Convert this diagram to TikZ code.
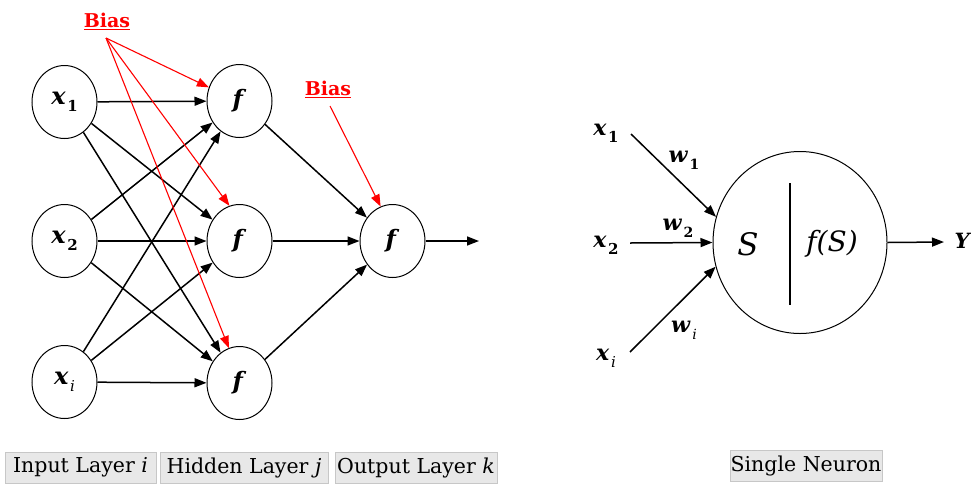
\documentclass[tikz,border=0pt]{standalone}
\usepackage{fontspec}
\setmainfont{DejaVu Serif}
\newfontfamily\tnr{DejaVu Serif}
\usetikzlibrary{shapes.geometric,arrows.meta}
\newcommand{\xvar}[1]{\textbf{\textit{x}}\hspace{1.5pt}\raisebox{-0.3em}{\fontsize{15}{15}\selectfont\textbf{#1}}}
\newcommand{\xivar}{\textbf{\textit{x}}\hspace{1.5pt}\raisebox{-0.3em}{\fontsize{15}{15}\selectfont\textit{i}}}
\newcommand{\wvar}[1]{\textbf{\textit{w}}\hspace{1.5pt}\raisebox{-0.3em}{\fontsize{14}{14}\selectfont\textbf{#1}}}
\begin{document}
\begin{tikzpicture}[x=1pt,y=-1pt,
  neuron/.style={ellipse,draw,line width=1pt,minimum width=65pt,minimum height=73pt,inner sep=0pt,font=\tnr\fontsize{24}{26}\selectfont},
  conn/.style={-{Triangle[length=12pt,width=9pt]},line width=1.5pt},
  biasarrow/.style={-{Triangle[length=12pt,width=9pt]},line width=1.1pt,red},
  biaslabel/.style={text=red,font=\tnr\fontsize{19}{21}\selectfont\bfseries,inner sep=1pt},
  lbl/.style={font=\tnr\fontsize{22}{24}\selectfont,inner sep=1pt},
  layerbox/.style={rectangle,fill=black!9,draw=black!22,line width=0.8pt,minimum height=31pt,inner sep=0pt,font=\tnr\fontsize{20.5}{23}\selectfont}
]
\useasboundingbox (0,0) rectangle (971,483);

% input layer
\node[neuron] (x1) at (64.5,102) {\xvar{1}};
\node[neuron] (x2) at (64.5,241) {\xvar{2}};
\node[neuron] (xi) at (64.5,382) {\xivar};
% hidden layer
\node[neuron] (h1) at (239.5,101) {\textbf{\textit{f}}};
\node[neuron] (h2) at (239.5,241) {\textbf{\textit{f}}};
\node[neuron] (h3) at (239.5,383) {\textbf{\textit{f}}};
% output
\node[neuron] (o) at (392.5,241) {\textbf{\textit{f}}};
\coordinate (oend) at (479,241);

\foreach \a in {x1,x2,xi}{
  \foreach \b in {h1,h2,h3}{
    \draw[conn] (\a) -- (\b);
  }
}
\foreach \b in {h1,h2,h3}{
  \draw[conn] (\b) -- (o);
}
\draw[conn] (o) -- (oend);

% bias
\node[biaslabel] (bias1) at (107,21) {\underline{Bias}};
\coordinate (b1s) at (106,38);
\draw[biasarrow] (b1s) -- (h1.156);
\draw[biasarrow] (b1s) -- (h2.106);
\draw[biasarrow] (b1s) -- (h3.107);
\node[biaslabel] (bias2) at (328,89) {\underline{Bias}};
\coordinate (b2s) at (330,106);
\draw[biasarrow] (b2s) -- (o.109);

% single neuron
\node[ellipse,draw,line width=1pt,minimum width=174pt,minimum height=182pt,inner sep=0pt] (N) at (800,242.5) {};
\draw[line width=1.3pt] (790,183) -- (790,305);
\node[font=\tnr\fontsize{31}{33}\selectfont\itshape] (S) at (748,244) {S};
\node[font=\tnr\fontsize{28}{30}\selectfont\itshape] (fS) at (832,244) {f(S)};

\node[lbl] (r1) at (606,133) {\xvar{1}};
\node[lbl] (r2) at (606,245) {\xvar{2}};
\node[lbl] (r3) at (606,358) {\xivar};
\coordinate (s1) at (631,134);
\coordinate (s2) at (630,243);
\coordinate (s3) at (630,352);
\draw[conn] (s1) -- (N.163);
\draw[conn] (s2) -- (N.west);
\draw[conn] (s3) -- (N.196);
\node[lbl] (w1) at (684,160) {\wvar{1}};
\node[lbl] (w2) at (678,228) {\wvar{2}};
\node[lbl] (wi) at (684,330) {\textbf{\textit{w}}\hspace{1.5pt}\raisebox{-0.3em}{\fontsize{14}{14}\selectfont\textit{i}}};
\coordinate (yend) at (944,242);
\draw[conn] (N.east) -- (yend);
\node[lbl,font=\tnr\fontsize{21}{23}\selectfont\bfseries\itshape] (Y) at (962,241) {Y};

% layer labels
\node[layerbox,minimum width=151pt] (L1) at (80.5,467.5) {Input Layer \textit{i}};
\node[layerbox,minimum width=168pt] (L2) at (244,467.5) {Hidden Layer \textit{j}};
\node[layerbox,minimum width=162pt] (L3) at (416,467.5) {Output Layer \textit{k}};
\node[layerbox,minimum width=152pt] (L4) at (806,466) {Single Neuron};
\end{tikzpicture}
\end{document}
